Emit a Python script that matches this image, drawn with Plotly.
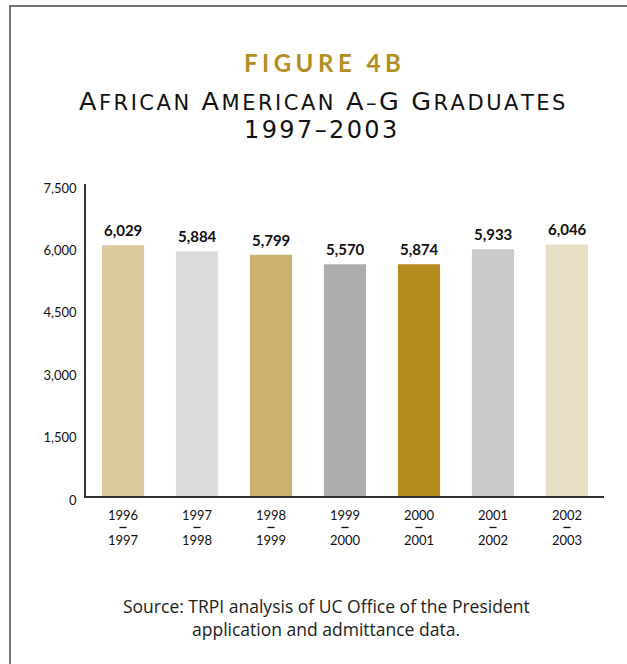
import plotly.graph_objects as go

# ---- data ----
periods_start = ["1996", "1997", "1998", "1999", "2000", "2001", "2002"]
periods_end = ["1997", "1998", "1999", "2000", "2001", "2002", "2003"]
bar_heights = [6029, 5884, 5799, 5570, 5570, 5933, 6046]   # drawn heights
bar_labels = [6029, 5884, 5799, 5570, 5874, 5933, 6046]    # printed value labels
bar_colors = ["#d9c99b", "#dcdcdc", "#c9b16e", "#acacac", "#b38e1f", "#cacaca", "#e8dfc4"]
y_ticks = [0, 1500, 3000, 4500, 6000, 7500]

categories = list(range(len(periods_start)))

W, H = 627, 664
L, R, T, B = 86, 23, 184, 168
pw, ph = W - L - R, H - T - B

def px_x(x):
    return (x - L) / pw

def px_y(y):
    return (H - B - y) / ph

HAIR = "\u200a"
THIN = "\u2009"
EN = "\u2002"

def spaced(s, sep=HAIR):
    return sep.join(s)

def small_caps(text, big=25.5, small=21, sep=HAIR, wsep=EN):
    words = []
    for word in text.split(" "):
        parts = []
        for ch in word:
            if ch.isupper():
                parts.append(f"<span style='font-size:{big}px'>{ch}</span>")
            else:
                parts.append(f"<span style='font-size:{small}px'>{ch.upper()}</span>")
        words.append(sep.join(parts))
    return wsep.join(words)

fig = go.Figure()
fig.add_trace(go.Bar(
    x=categories, y=bar_heights,
    marker=dict(color=bar_colors, line=dict(width=0)),
    width=0.57, hoverinfo="skip",
))

ann = []
shapes = [dict(type="rect", xref="paper", yref="paper",
               x0=px_x(10), x1=px_x(700), y0=px_y(700), y1=px_y(6),
               line=dict(color="#444", width=1.5), layer="below")]
# value labels
for c, h, v in zip(categories, bar_heights, bar_labels):
    ann.append(dict(x=c, y=h, xref="x", yref="y", text=f"{v:,}", showarrow=False,
                    yanchor="bottom", yshift=4,
                    font=dict(family="Lato", size=15, color="#111", weight="bold")))
# category labels
for c, a, b in zip(categories, periods_start, periods_end):
    ann.append(dict(x=c, y=0, xref="x", yref="paper", text=a, showarrow=False,
                    yanchor="middle", yshift=-19, font=dict(family="Lato", size=13, color="#111")))
    ann.append(dict(x=c, y=0, xref="x", yref="paper", text=b, showarrow=False,
                    yanchor="middle", yshift=-44, font=dict(family="Lato", size=13, color="#111")))
    shapes.append(dict(type="line", xref="x", yref="paper",
                       x0=c - 0.048, x1=c + 0.048, y0=px_y(527.5), y1=px_y(527.5),
                       line=dict(color="#111", width=1.3)))

cx = px_x(322)
ann.append(dict(x=cx, y=px_y(62), xref="paper", yref="paper", showarrow=False,
                text=spaced("FIGURE 4B", THIN + HAIR), yanchor="middle",
                font=dict(family="Lato", size=24, color="#b38e1f", weight="bold")))
ann.append(dict(x=cx, y=px_y(101), xref="paper", yref="paper", showarrow=False,
                text=small_caps("African American A–G Graduates"), yanchor="middle",
                font=dict(family="DejaVu Sans", size=25, color="#111")))
ann.append(dict(x=px_x(320), y=px_y(130), xref="paper", yref="paper", showarrow=False,
                text=spaced("1997–2003"), yanchor="middle",
                font=dict(family="DejaVu Sans", size=24, color="#111")))
src_lines = ["Source: TRPI analysis of UC Office of the President",
             "application and admittance data."]
for yy, line in zip([606, 629], src_lines):
    ann.append(dict(x=px_x(326), y=px_y(yy), xref="paper", yref="paper", showarrow=False,
                    text=line, yanchor="middle", align="center",
                    font=dict(family="Open Sans", size=17.5, color="#222")))

fig.update_layout(
    width=W, height=H,
    margin=dict(l=L, r=R, t=T, b=B, pad=0),
    paper_bgcolor="white", plot_bgcolor="white",
    showlegend=False, annotations=ann, shapes=shapes,
    xaxis=dict(range=[-0.5, 6.5], showticklabels=False, showgrid=False, zeroline=False,
               showline=True, linecolor="#333", linewidth=1.5, ticks=""),
    yaxis=dict(range=[0, 7500], tickvals=y_ticks, ticktext=[f"{v:,}" for v in y_ticks],
               showgrid=False, zeroline=False, showline=True, linecolor="#333", linewidth=1.5,
               ticks="", ticklabelstandoff=5, ticklabelshift=4,
               tickfont=dict(family="Lato", size=13, color="#111")),
)

fig.write_html("out.html")
